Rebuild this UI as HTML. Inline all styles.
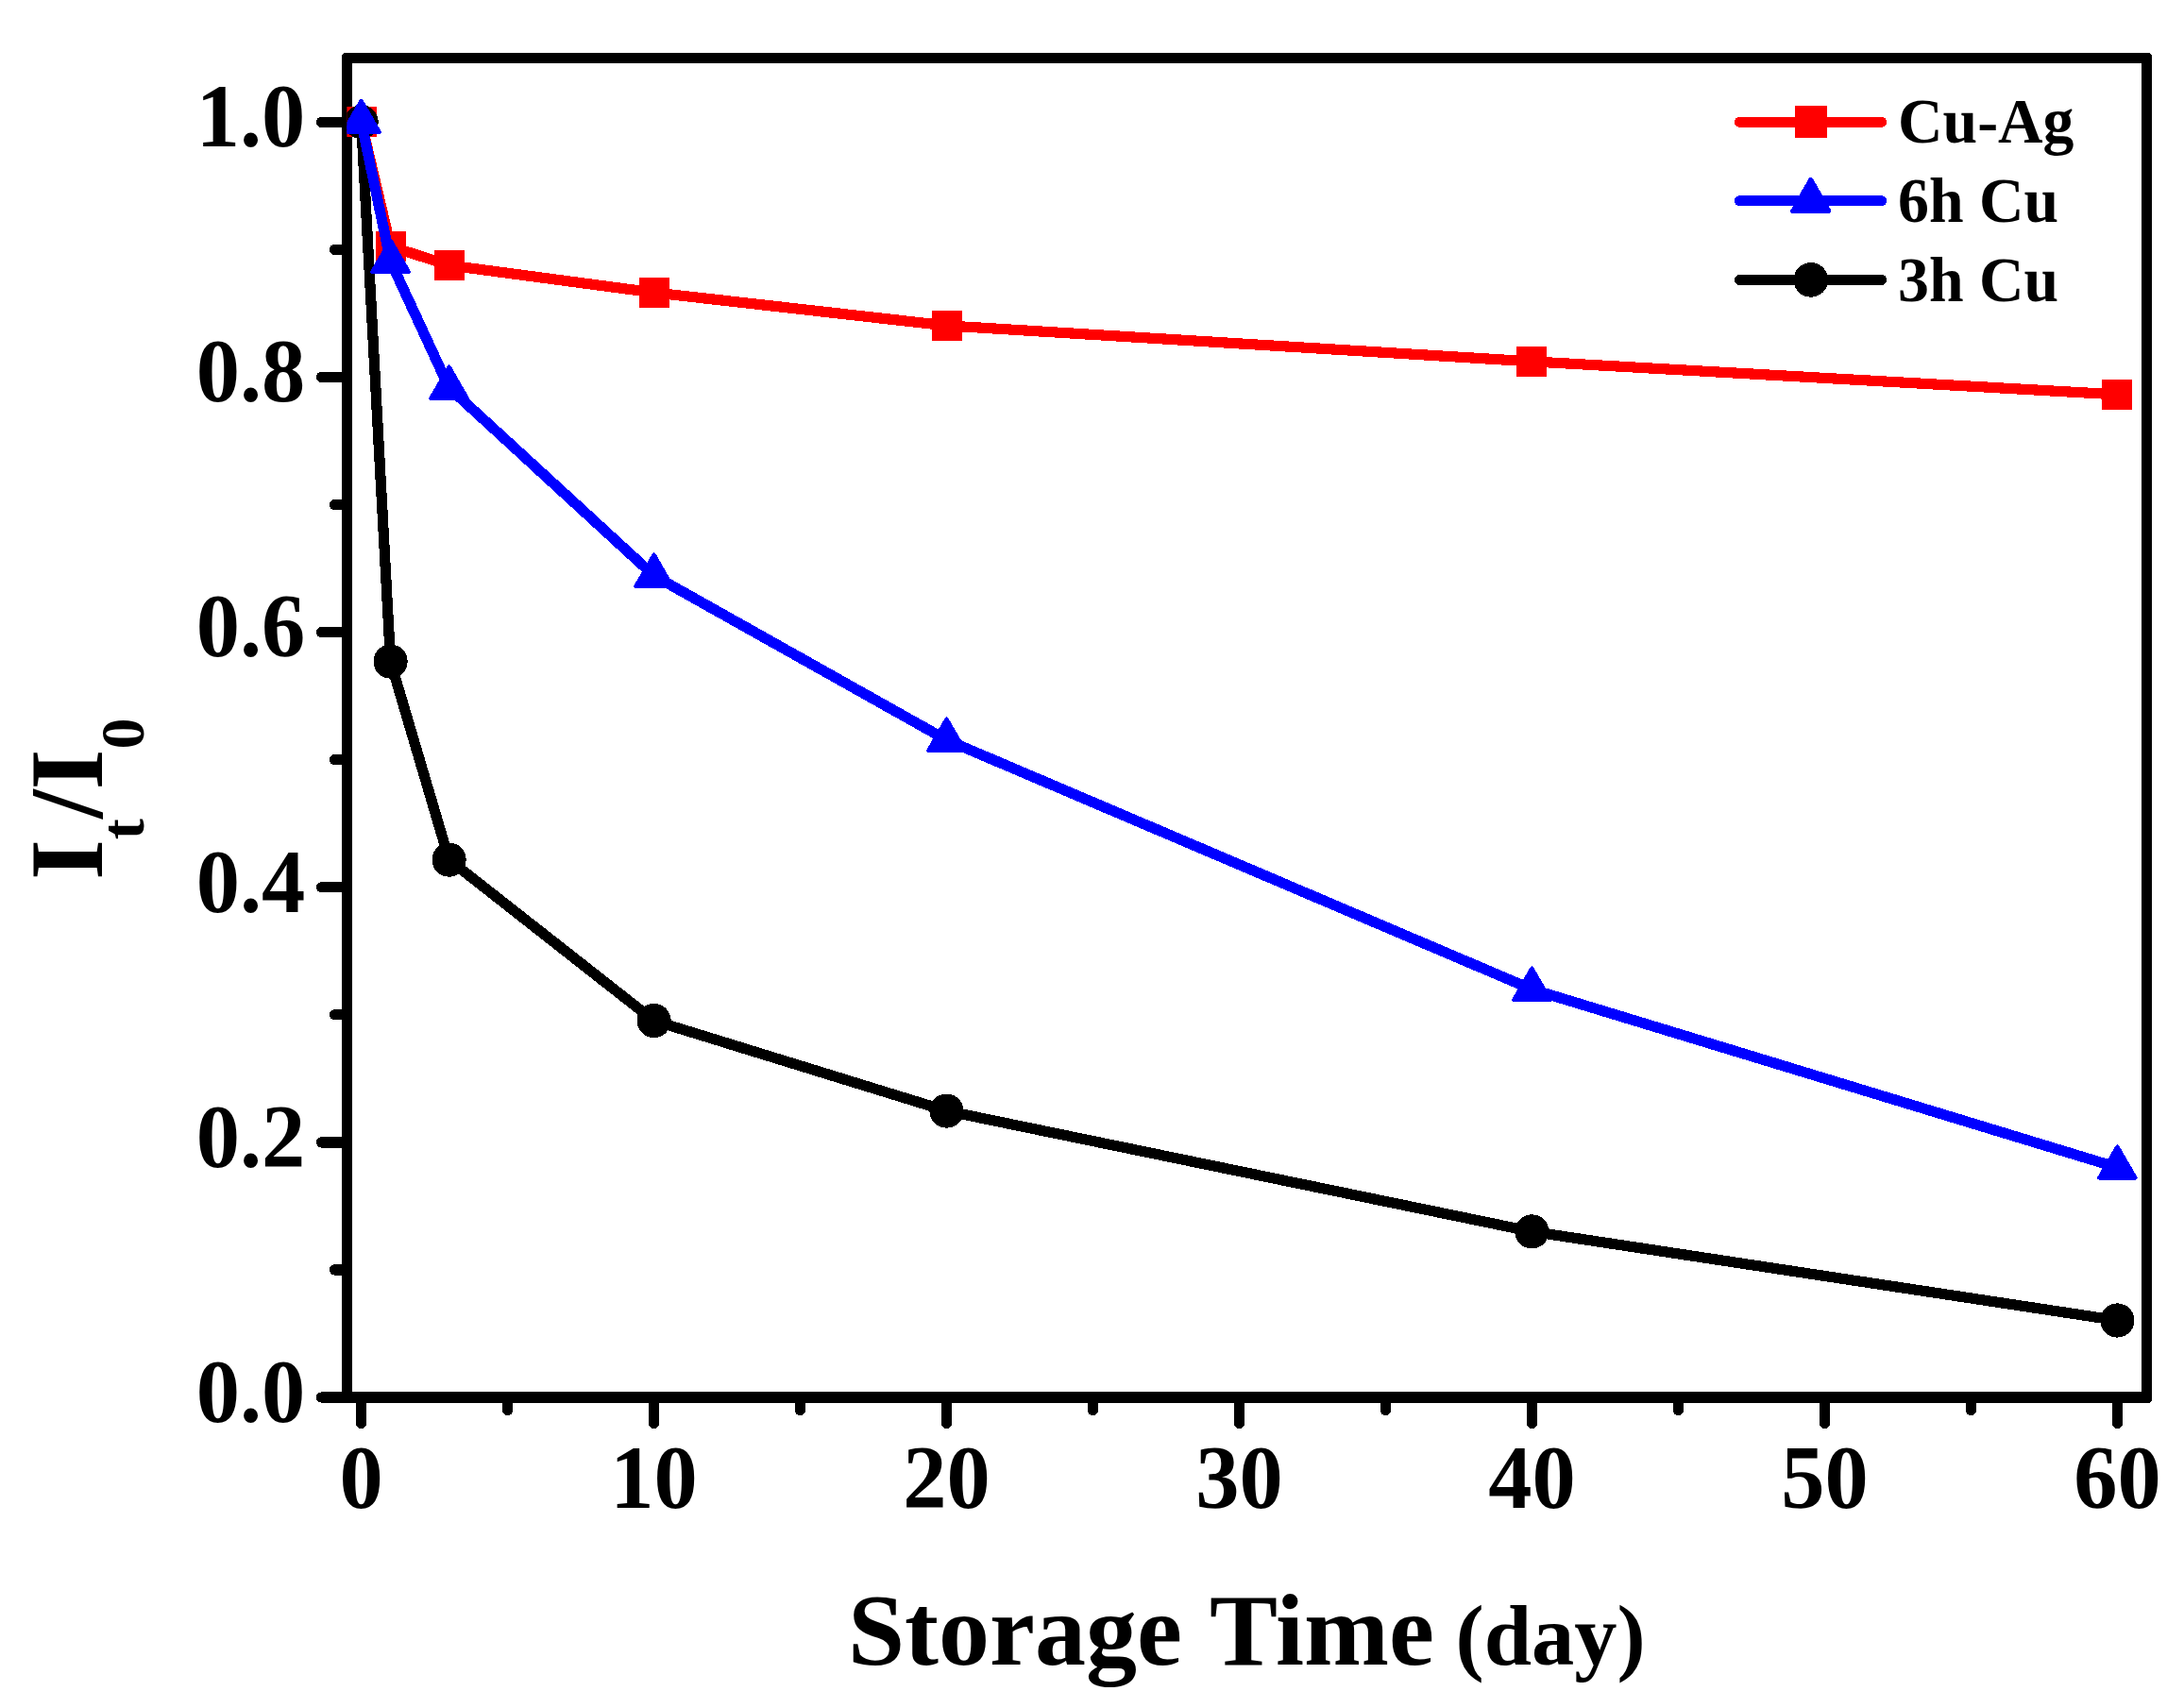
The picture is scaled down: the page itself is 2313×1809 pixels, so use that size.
<!DOCTYPE html>
<html lang="en"><head><meta charset="utf-8"><title>Storage stability</title>
<style>html,body{margin:0;padding:0;background:#fff;width:2313px;height:1809px;overflow:hidden}svg{display:block}text{font-family:"Liberation Serif","Times New Roman",Times,serif;font-weight:bold;fill:#000}</style>
</head><body>
<svg width="2313" height="1809" viewBox="0 0 2313 1809" shape-rendering="crispEdges">
<rect x="0" y="0" width="2313" height="1809" fill="#fff"/>
<defs><clipPath id="plot"><rect x="367.4" y="61.5" width="1906.2" height="1418.5"/></clipPath></defs>
<rect x="362" y="56" width="11" height="1430" fill="#000"/>
<rect x="2268" y="56" width="11" height="1430" fill="#000"/>
<rect x="362" y="56" width="1917" height="11" fill="#000"/>
<rect x="362" y="1474" width="1917" height="12" fill="#000"/>
<polygon points="362,56 364.5,56 362,58.5" fill="#fff"/>
<polygon points="2279,56 2276.5,56 2279,58.5" fill="#fff"/>
<polygon points="2279,1486 2276.5,1486 2279,1483.5" fill="#fff"/>
<g stroke="#000" stroke-width="11.2" stroke-linecap="round" fill="none">
<line x1="366.9" y1="1480.0" x2="340.4" y2="1480.0"/>
<line x1="366.9" y1="1344.9" x2="354.4" y2="1344.9"/>
<line x1="366.9" y1="1209.9" x2="340.4" y2="1209.9"/>
<line x1="366.9" y1="1074.8" x2="354.4" y2="1074.8"/>
<line x1="366.9" y1="939.8" x2="340.4" y2="939.8"/>
<line x1="366.9" y1="804.7" x2="354.4" y2="804.7"/>
<line x1="366.9" y1="669.6" x2="340.4" y2="669.6"/>
<line x1="366.9" y1="534.6" x2="354.4" y2="534.6"/>
<line x1="366.9" y1="399.5" x2="340.4" y2="399.5"/>
<line x1="366.9" y1="264.5" x2="354.4" y2="264.5"/>
<line x1="366.9" y1="129.4" x2="340.4" y2="129.4"/>
<line x1="382.6" y1="1480.5" x2="382.6" y2="1507.4"/>
<line x1="537.6" y1="1480.5" x2="537.6" y2="1493.6"/>
<line x1="692.6" y1="1480.5" x2="692.6" y2="1507.4"/>
<line x1="847.5" y1="1480.5" x2="847.5" y2="1493.6"/>
<line x1="1002.5" y1="1480.5" x2="1002.5" y2="1507.4"/>
<line x1="1157.5" y1="1480.5" x2="1157.5" y2="1493.6"/>
<line x1="1312.5" y1="1480.5" x2="1312.5" y2="1507.4"/>
<line x1="1467.5" y1="1480.5" x2="1467.5" y2="1493.6"/>
<line x1="1622.4" y1="1480.5" x2="1622.4" y2="1507.4"/>
<line x1="1777.4" y1="1480.5" x2="1777.4" y2="1493.6"/>
<line x1="1932.4" y1="1480.5" x2="1932.4" y2="1507.4"/>
<line x1="2087.4" y1="1480.5" x2="2087.4" y2="1493.6"/>
<line x1="2242.4" y1="1480.5" x2="2242.4" y2="1507.4"/>
</g>
<g font-size="90.5" text-anchor="end">
<text transform="translate(323.3,1505.8) scale(1.022,1.05)">0.0</text>
<text transform="translate(323.3,1235.7) scale(1.022,1.05)">0.2</text>
<text transform="translate(323.3,965.6) scale(1.022,1.05)">0.4</text>
<text transform="translate(323.3,695.4) scale(1.022,1.05)">0.6</text>
<text transform="translate(323.3,425.3) scale(1.022,1.05)">0.8</text>
<text transform="translate(323.3,155.2) scale(1.022,1.05)">1.0</text>
</g>
<g font-size="90.5" text-anchor="middle">
<text transform="translate(382.6,1596.8) scale(1.022,1.05)">0</text>
<text transform="translate(692.6,1596.8) scale(1.022,1.05)">10</text>
<text transform="translate(1002.5,1596.8) scale(1.022,1.05)">20</text>
<text transform="translate(1312.5,1596.8) scale(1.022,1.05)">30</text>
<text transform="translate(1622.4,1596.8) scale(1.022,1.05)">40</text>
<text transform="translate(1932.4,1596.8) scale(1.022,1.05)">50</text>
<text transform="translate(2242.4,1596.8) scale(1.022,1.05)">60</text>
</g>
<text transform="translate(898,1762.5)" font-size="108" word-spacing="4">Storage Time</text>
<text transform="translate(1541.5,1762.5)" font-size="90.5">(day)</text>
<text transform="translate(108.2,932) rotate(-90) scale(1.02)" font-size="108">I<tspan font-size="65" dy="42.8">t</tspan><tspan dy="-42.8">/I</tspan><tspan font-size="65" dy="42.8">0</tspan></text>
<g clip-path="url(#plot)">
<polyline points="382.6,129.0 413.6,261.0 475.6,281.0 692.6,309.9 1002.5,344.9 1622.4,382.9 2242.4,417.9" fill="none" stroke="#ff0000" stroke-width="11.2" stroke-linejoin="round"/>
<rect x="366.6" y="113.0" width="32" height="32" fill="#ff0000"/>
<rect x="397.6" y="245.0" width="32" height="32" fill="#ff0000"/>
<rect x="459.6" y="265.0" width="32" height="32" fill="#ff0000"/>
<rect x="676.6" y="293.9" width="32" height="32" fill="#ff0000"/>
<rect x="986.5" y="328.9" width="32" height="32" fill="#ff0000"/>
<rect x="1606.4" y="366.9" width="32" height="32" fill="#ff0000"/>
<rect x="2226.4" y="401.9" width="32" height="32" fill="#ff0000"/>
<polyline points="382.6,129.2 413.6,700.6 475.6,910.6 692.6,1081.0 1002.5,1176.6 1622.4,1304.4 2242.4,1398.5" fill="none" stroke="#000" stroke-width="11.2" stroke-linejoin="round"/>
<circle cx="382.6" cy="129.2" r="18.1" fill="#000"/>
<circle cx="413.6" cy="700.6" r="18.1" fill="#000"/>
<circle cx="475.6" cy="910.6" r="18.1" fill="#000"/>
<circle cx="692.6" cy="1081.0" r="18.1" fill="#000"/>
<circle cx="1002.5" cy="1176.6" r="18.1" fill="#000"/>
<circle cx="1622.4" cy="1304.4" r="18.1" fill="#000"/>
<circle cx="2242.4" cy="1398.5" r="18.1" fill="#000"/>
<polyline points="382.6,129.0 413.6,276.6 475.6,410.7 692.6,609.7 1002.5,783.7 1622.4,1047.8 2242.4,1236.5" fill="none" stroke="#0000ff" stroke-width="11.2" stroke-linejoin="round"/>
<polygon points="382.6,106.8 363.4,140.1 401.8,140.1" fill="#0000ff" stroke="#0000ff" stroke-width="4.1" stroke-linejoin="round"/>
<polygon points="413.6,254.5 394.4,287.7 432.8,287.7" fill="#0000ff" stroke="#0000ff" stroke-width="4.1" stroke-linejoin="round"/>
<polygon points="475.6,388.5 456.4,421.8 494.8,421.8" fill="#0000ff" stroke="#0000ff" stroke-width="4.1" stroke-linejoin="round"/>
<polygon points="692.6,587.5 673.4,620.8 711.8,620.8" fill="#0000ff" stroke="#0000ff" stroke-width="4.1" stroke-linejoin="round"/>
<polygon points="1002.5,761.5 983.3,794.8 1021.7,794.8" fill="#0000ff" stroke="#0000ff" stroke-width="4.1" stroke-linejoin="round"/>
<polygon points="1622.4,1025.6 1603.2,1058.9 1641.6,1058.9" fill="#0000ff" stroke="#0000ff" stroke-width="4.1" stroke-linejoin="round"/>
<polygon points="2242.4,1214.4 2223.2,1247.6 2261.6,1247.6" fill="#0000ff" stroke="#0000ff" stroke-width="4.1" stroke-linejoin="round"/>
</g>
<g stroke-width="11.2" stroke-linecap="round">
<line x1="1842.6" y1="129.25" x2="1992.6" y2="129.25" stroke="#ff0000"/>
<line x1="1842.6" y1="212.75" x2="1992.6" y2="212.75" stroke="#0000ff"/>
<line x1="1842.6" y1="296.4" x2="1992.6" y2="296.4" stroke="#000"/>
</g>
<rect x="1900.9" y="112.2" width="33.8" height="33.8" fill="#ff0000"/>
<polygon points="1917.8,190.4 1898.8,223.4 1936.8,223.4" fill="#0000ff" stroke="#0000ff" stroke-width="5.0" stroke-linejoin="round"/>
<circle cx="1917.8" cy="296.4" r="18.3" fill="#000"/>
<g font-size="66.5">
<text transform="translate(2010,151.3) scale(0.99,1.02)">Cu-Ag</text>
<text transform="translate(2010,235) scale(0.99,1.01)">6h Cu</text>
<text transform="translate(2010,318.5) scale(0.99,1.01)">3h Cu</text>
</g>
</svg>
</body></html>
